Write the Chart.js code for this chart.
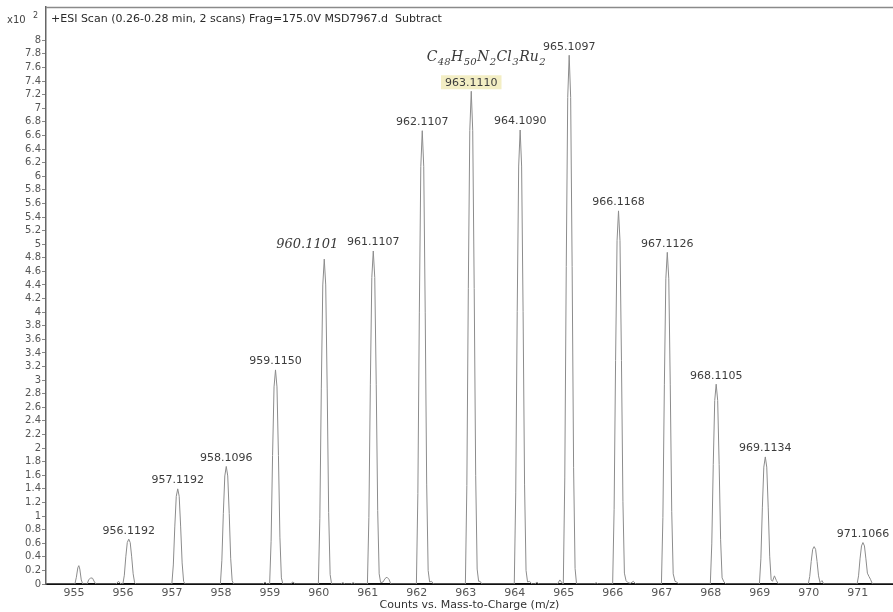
<!DOCTYPE html>
<html>
<head>
<meta charset="utf-8">
<script src="https://cdn.jsdelivr.net/npm/chart.js@4.4.1/dist/chart.umd.min.js"></script>
<style>
  html, body { margin: 0; padding: 0; background: #fff; }
  canvas { display: block; }
</style>
</head>
<body>
<canvas id="ms" width="893" height="612"></canvas>
<script>
// Profile spectrum, m/z and counts (x10^2), one line per isotope peak
const traceMz = [
  954.43,
  955.02, 955.05, 955.08, 955.10, 955.12, 955.15, 955.18,
  955.27, 955.30, 955.34, 955.38, 955.42, 955.45,
  955.86, 955.91, 955.96,
  955.999, 956.029, 956.059, 956.089, 956.1192, 956.149, 956.179, 956.209, 956.239, 956.269,
  956.999, 957.029, 957.059, 957.089, 957.1192, 957.149, 957.179, 957.209, 957.239, 957.269,
  957.990, 958.020, 958.050, 958.080, 958.1096, 958.140, 958.170, 958.200, 958.230, 958.260,
  958.86, 958.90, 958.94,
  958.995, 959.025, 959.055, 959.085, 959.1150, 959.145, 959.175, 959.205, 959.235, 959.265,
  959.42, 959.47, 959.52,
  959.990, 960.020, 960.050, 960.080, 960.1101, 960.140, 960.170, 960.200, 960.230, 960.260,
  960.44, 960.49, 960.54, 960.65, 960.70, 960.75,
  960.991, 961.021, 961.051, 961.081, 961.1107, 961.141, 961.171, 961.201, 961.231, 961.261,
  961.31, 961.35, 961.39, 961.43, 961.47,
  961.991, 962.021, 962.051, 962.081, 962.1107, 962.141, 962.171, 962.201, 962.231, 962.261, 962.30, 962.34,
  962.991, 963.021, 963.051, 963.081, 963.1110, 963.141, 963.171, 963.201, 963.231, 963.261, 963.29, 963.33,
  963.989, 964.019, 964.049, 964.079, 964.1090, 964.139, 964.169, 964.199, 964.229, 964.26, 964.30, 964.35, 964.41, 964.45, 964.49,
  964.87, 964.92, 964.96,
  964.990, 965.020, 965.050, 965.080, 965.1097, 965.140, 965.170, 965.200, 965.230, 965.260,
  965.62, 965.66, 965.70,
  965.997, 966.027, 966.057, 966.087, 966.1168, 966.147, 966.177, 966.207, 966.237, 966.27, 966.31, 966.36, 966.42, 966.47,
  966.993, 967.023, 967.053, 967.083, 967.1126, 967.143, 967.173, 967.203, 967.233, 967.27, 967.30, 967.35,
  967.991, 968.021, 968.051, 968.081, 968.1105, 968.141, 968.171, 968.201, 968.231, 968.27, 968.31,
  968.993, 969.023, 969.053, 969.083, 969.1134, 969.143, 969.173, 969.203, 969.233, 969.26, 969.30, 969.34, 969.38,
  969.99, 970.02, 970.05, 970.08, 970.11, 970.14, 970.17, 970.20, 970.23, 970.27, 970.31,
  970.987, 971.017, 971.047, 971.077, 971.1066, 971.137, 971.167, 971.197, 971.23, 971.26, 971.30,
  971.72
];
const traceCounts = [
  0,
  0, 0.10, 0.24, 0.27, 0.22, 0.06, 0,
  0, 0.06, 0.09, 0.085, 0.03, 0,
  0, 0.04, 0,
  0, 0.13, 0.40, 0.61, 0.66, 0.61, 0.40, 0.15, 0.02, 0,
  0, 0.28, 0.84, 1.29, 1.40, 1.29, 0.84, 0.31, 0.04, 0,
  0, 0.35, 1.04, 1.59, 1.73, 1.59, 1.04, 0.38, 0.05, 0,
  0, 0.03, 0,
  0, 0.63, 1.89, 2.90, 3.15, 2.90, 1.89, 0.69, 0.09, 0,
  0, 0.03, 0,
  0, 0.96, 2.87, 4.40, 4.78, 4.40, 2.87, 1.05, 0.14, 0,
  0, 0.02, 0, 0, 0.02, 0,
  0, 0.98, 2.94, 4.51, 4.90, 4.51, 2.94, 1.08, 0.15, 0.02,
  0.03, 0.08, 0.10, 0.07, 0,
  0, 1.33, 4.00, 6.14, 6.67, 6.14, 4.00, 1.47, 0.20, 0.03, 0.04, 0,
  0, 1.45, 4.35, 6.67, 7.25, 6.67, 4.35, 1.60, 0.22, 0.04, 0.04, 0,
  0, 1.34, 4.01, 6.15, 6.68, 6.15, 4.01, 1.47, 0.20, 0.03, 0.04, 0, 0, 0.03, 0,
  0, 0.06, 0.02,
  0, 1.56, 4.67, 7.16, 7.78, 7.16, 4.67, 1.71, 0.23, 0,
  0, 0.02, 0,
  0, 1.10, 3.29, 5.05, 5.49, 5.05, 3.29, 1.21, 0.16, 0.05, 0.02, 0.01, 0.04, 0,
  0, 0.98, 2.93, 4.49, 4.88, 4.49, 2.93, 1.07, 0.15, 0.04, 0.03, 0,
  0, 0.59, 1.76, 2.70, 2.94, 2.70, 1.76, 0.65, 0.09, 0.03, 0,
  0, 0.37, 1.12, 1.72, 1.87, 1.72, 1.12, 0.41, 0.06, 0.04, 0.12, 0.05, 0,
  0, 0.11, 0.33, 0.51, 0.55, 0.51, 0.33, 0.12, 0.02, 0.05, 0,
  0, 0.12, 0.37, 0.56, 0.61, 0.56, 0.37, 0.16, 0.11, 0.07, 0,
  0
];

// Labelled peaks (apex m/z as annotated)
const peakMz = [956.1192, 957.1192, 958.1096, 959.1150, 960.1101, 961.1107, 962.1107,
                963.1110, 964.1090, 965.1097, 966.1168, 967.1126, 968.1105, 969.1134, 971.1066];
const peakLabels = ['956.1192', '957.1192', '958.1096', '959.1150', '960.1101', '961.1107', '962.1107',
                    '963.1110', '964.1090', '965.1097', '966.1168', '967.1126', '968.1105', '969.1134', '971.1066'];
const handLabelMz = 960.1101;      // written in by hand
const highlightedMz = 963.1110;    // marked with a highlighter

const xTicks = [955, 956, 957, 958, 959, 960, 961, 962, 963, 964, 965, 966, 967, 968, 969, 970, 971];
const yTicks = [0, 0.2, 0.4, 0.6, 0.8, 1, 1.2, 1.4, 1.6, 1.8, 2, 2.2, 2.4, 2.6, 2.8, 3, 3.2, 3.4, 3.6, 3.8,
                4, 4.2, 4.4, 4.6, 4.8, 5, 5.2, 5.4, 5.6, 5.8, 6, 6.2, 6.4, 6.6, 6.8, 7, 7.2, 7.4, 7.6, 7.8, 8];

const scanTitle = '+ESI Scan (0.26-0.28 min, 2 scans) Frag=175.0V MSD7967.d  Subtract';
const xTitle = 'Counts vs. Mass-to-Charge (m/z)';
const formulaParts = [['C', false], ['48', true], ['H', false], ['50', true], ['N', false], ['2', true],
                      ['Cl', false], ['3', true], ['Ru', false], ['2', true]];

const points = traceMz.map((m, i) => ({ x: m, y: traceCounts[i] }));

function apexOf(mz) {
  const i = traceMz.indexOf(mz);
  return traceCounts[i];
}

const annotations = {
  id: 'annotations',
  afterDatasetsDraw(chart) {
    const { ctx, scales: { x, y } } = chart;
    ctx.save();
    peakMz.forEach((mz, i) => {
      const px = x.getPixelForValue(mz);
      const py = y.getPixelForValue(apexOf(mz));
      if (mz === handLabelMz) {
        ctx.font = 'italic 13px "DejaVu Serif"';
        ctx.fillStyle = '#3a3a3a';
        ctx.textAlign = 'center';
        ctx.textBaseline = 'bottom';
        ctx.fillText('960.1101', px - 17, py - 8);
        return;
      }
      ctx.font = '11px "DejaVu Sans"';
      ctx.textAlign = 'center';
      ctx.textBaseline = 'bottom';
      if (mz === highlightedMz) {
        const w = ctx.measureText(peakLabels[i]).width;
        ctx.fillStyle = '#f3eec4';
        ctx.fillRect(px - w / 2 - 4, py - 16, w + 8, 14);
      }
      ctx.fillStyle = '#3c3c3c';
      ctx.fillText(peakLabels[i], px, py - 3);
    });

    // hand-written molecular formula above the cluster
    let fx = x.getPixelForValue(962.2);
    const fy = y.getPixelForValue(8.0) + 21;
    ctx.textAlign = 'left';
    ctx.textBaseline = 'alphabetic';
    ctx.fillStyle = '#3a3a3a';
    formulaParts.forEach(([t, sub]) => {
      ctx.font = sub ? 'italic 10px "DejaVu Serif"' : 'italic 14px "DejaVu Serif"';
      ctx.fillText(t, fx, fy + (sub ? 4 : 0));
      fx += ctx.measureText(t).width + 0.5;
    });
    ctx.restore();
  },
  afterDraw(chart) {
    const { ctx, chartArea: a } = chart;
    ctx.save();
    // top frame line
    ctx.strokeStyle = '#8a8a8a';
    ctx.lineWidth = 1.5;
    ctx.beginPath();
    ctx.moveTo(a.left, a.top + 0.5);
    ctx.lineTo(chart.width, a.top + 0.5);
    ctx.stroke();
    // scan header
    ctx.fillStyle = '#2a2a2a';
    ctx.font = '11px "DejaVu Sans"';
    ctx.textAlign = 'left';
    ctx.textBaseline = 'middle';
    ctx.fillText(scanTitle, a.left + 5, a.top + 12);
    // intensity multiplier
    ctx.fillStyle = '#444';
    ctx.font = '10px "DejaVu Sans"';
    ctx.fillText('x10', 7, a.top + 13);
    ctx.font = '8px "DejaVu Sans"';
    ctx.fillText('2', 33, a.top + 9);
    // x-axis title
    ctx.font = '11px "DejaVu Sans"';
    ctx.fillStyle = '#333';
    ctx.textAlign = 'center';
    ctx.fillText(xTitle, (a.left + a.right) / 2, 605);
    ctx.restore();
  }
};

new Chart(document.getElementById('ms'), {
  type: 'line',
  data: {
    datasets: [{
      data: points,
      borderColor: '#8c8c8c',
      borderWidth: 1,
      pointRadius: 0,
      tension: 0,
      fill: false
    }]
  },
  options: {
    responsive: false,
    animation: false,
    devicePixelRatio: 1,
    parsing: false,
    layout: { padding: { top: 7, right: 0, left: 0, bottom: 0 } },
    plugins: { legend: { display: false }, tooltip: { enabled: false } },
    scales: {
      x: {
        type: 'linear',
        min: 954.43,
        max: 971.72,
        afterBuildTicks(scale) { scale.ticks = xTicks.map(v => ({ value: v })); },
        afterFit(scale) { scale.height = 28; },
        grid: { display: false, drawTicks: false },
        border: { display: true, color: '#111', width: 2 },
        ticks: {
          autoSkip: false,
          maxRotation: 0,
          padding: 3,
          color: '#555',
          font: { family: 'DejaVu Sans', size: 11 },
          callback: v => String(v)
        }
      },
      y: {
        min: 0,
        max: 8.49,
        afterBuildTicks(scale) { scale.ticks = yTicks.map(v => ({ value: v })); },
        afterFit(scale) { scale.width = 46; },
        grid: { display: true, drawOnChartArea: false, drawTicks: true, tickLength: 4, color: '#888' },
        border: { display: true, color: '#666', width: 1.5 },
        ticks: {
          autoSkip: false,
          padding: 1,
          color: '#555',
          font: { family: 'DejaVu Sans', size: 10 },
          callback: v => String(Number(v.toFixed(1)))
        }
      }
    }
  },
  plugins: [annotations]
});
</script>
</body>
</html>
